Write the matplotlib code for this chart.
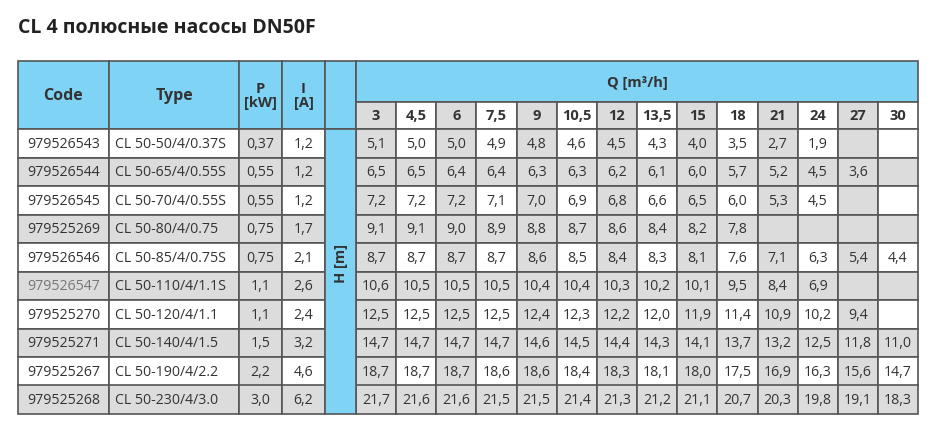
import matplotlib.pyplot as plt
from matplotlib.patches import Rectangle

plt.rcParams['font.family'] = ['Open Sans', 'DejaVu Sans']

codes = ['979526543', '979526544', '979526545', '979525269', '979526546',
         '979526547', '979525270', '979525271', '979525267', '979525268']
types = ['CL 50-50/4/0.37S', 'CL 50-65/4/0.55S', 'CL 50-70/4/0.55S', 'CL 50-80/4/0.75',
         'CL 50-85/4/0.75S', 'CL 50-110/4/1.1S', 'CL 50-120/4/1.1', 'CL 50-140/4/1.5',
         'CL 50-190/4/2.2', 'CL 50-230/4/3.0']
power = ['0,37', '0,55', '0,55', '0,75', '0,75', '1,1', '1,1', '1,5', '2,2', '3,0']
current = ['1,2', '1,2', '1,2', '1,7', '2,1', '2,6', '2,4', '3,2', '4,6', '6,2']
q_labels = ['3', '4,5', '6', '7,5', '9', '10,5', '12', '13,5', '15', '18', '21', '24', '27', '30']
head = [
    ['5,1', '5,0', '5,0', '4,9', '4,8', '4,6', '4,5', '4,3', '4,0', '3,5', '2,7', '1,9', '', ''],
    ['6,5', '6,5', '6,4', '6,4', '6,3', '6,3', '6,2', '6,1', '6,0', '5,7', '5,2', '4,5', '3,6', ''],
    ['7,2', '7,2', '7,2', '7,1', '7,0', '6,9', '6,8', '6,6', '6,5', '6,0', '5,3', '4,5', '', ''],
    ['9,1', '9,1', '9,0', '8,9', '8,8', '8,7', '8,6', '8,4', '8,2', '7,8', '', '', '', ''],
    ['8,7', '8,7', '8,7', '8,7', '8,6', '8,5', '8,4', '8,3', '8,1', '7,6', '7,1', '6,3', '5,4', '4,4'],
    ['10,6', '10,5', '10,5', '10,5', '10,4', '10,4', '10,3', '10,2', '10,1', '9,5', '8,4', '6,9', '', ''],
    ['12,5', '12,5', '12,5', '12,5', '12,4', '12,3', '12,2', '12,0', '11,9', '11,4', '10,9', '10,2', '9,4', ''],
    ['14,7', '14,7', '14,7', '14,7', '14,6', '14,5', '14,4', '14,3', '14,1', '13,7', '13,2', '12,5', '11,8', '11,0'],
    ['18,7', '18,7', '18,7', '18,6', '18,6', '18,4', '18,3', '18,1', '18,0', '17,5', '16,9', '16,3', '15,6', '14,7'],
    ['21,7', '21,6', '21,6', '21,5', '21,5', '21,4', '21,3', '21,2', '21,1', '20,7', '20,3', '19,8', '19,1', '18,3'],
]

BLUE = '#7fd3f5'
GRAY = '#dcdcdc'
WHITE = '#ffffff'
EDGE = '#555555'
TXT = '#333333'

W, H = 939, 439
fig = plt.figure(figsize=(W / 100, H / 100), dpi=100)
ax = fig.add_axes([0, 0, 1, 1])
ax.set_xlim(0, W)
ax.set_ylim(H, 0)
ax.axis('off')

left_x = [18, 109, 239, 282, 325, 356]
q_x = [356 + 40.15 * i for i in range(15)]
q_x[-1] = 918
top, sub, head_bot, bot = 62, 103, 130, 415
row_h = (bot - head_bot) / len(codes)


def cell(x0, x1, y0, y1, fc, text='', bold=False, color=TXT, size=10.2, ha='center'):
    ax.add_patch(Rectangle((x0, y0), x1 - x0, y1 - y0, fc=fc, ec=EDGE, lw=1.2))
    if text:
        tx = (x0 + x1) / 2 if ha == 'center' else x0 + 6
        ax.text(tx, (y0 + y1) / 2, text, ha=ha, va='center', fontsize=size,
                fontweight='bold' if bold else 'normal', color=color, linespacing=0.95)


ax.text(18, 28, 'CL 4 полюсные насосы DN50F', fontsize=14, fontweight='bold',
        color='#222222', va='center')

# header
for (x0, x1), t in zip(zip(left_x[:-1], left_x[1:]), ['Code', 'Type', 'P\n[kW]', 'I\n[A]', '']):
    cell(x0, x1, top, head_bot, BLUE, t, bold=True, size=11.5 if '\n' not in t else 10.5)
cell(356, 918, top, sub, BLUE, 'Q [m³/h]', bold=True, size=10.5)
for j, q in enumerate(q_labels):
    cell(q_x[j], q_x[j + 1], sub, head_bot, GRAY if j % 2 == 0 else WHITE, q, bold=True, size=10.5)

# body
for i in range(len(codes)):
    y0 = head_bot + i * row_h
    y1 = y0 + row_h
    odd = i % 2 == 1
    rc = GRAY if odd else WHITE
    cell(18, 109, y0, y1, rc, codes[i], color='#777777' if i == 5 else TXT)
    cell(109, 239, y0, y1, rc, types[i], ha='left')
    cell(239, 282, y0, y1, GRAY, power[i])
    cell(282, 325, y0, y1, rc, current[i])
    for j in range(len(q_labels)):
        fc = GRAY if (odd or j % 2 == 0) else WHITE
        cell(q_x[j], q_x[j + 1], y0, y1, fc, head[i][j])

ax.add_patch(Rectangle((325, head_bot), 31, bot - head_bot, fc=BLUE, ec=EDGE, lw=1.2))
ax.text(340.5, head_bot + 4.7 * row_h, 'H [m]', rotation=90, ha='center', va='center',
        fontsize=10.5, fontweight='bold', color=TXT)

fig.savefig('out.png', dpi=100)
